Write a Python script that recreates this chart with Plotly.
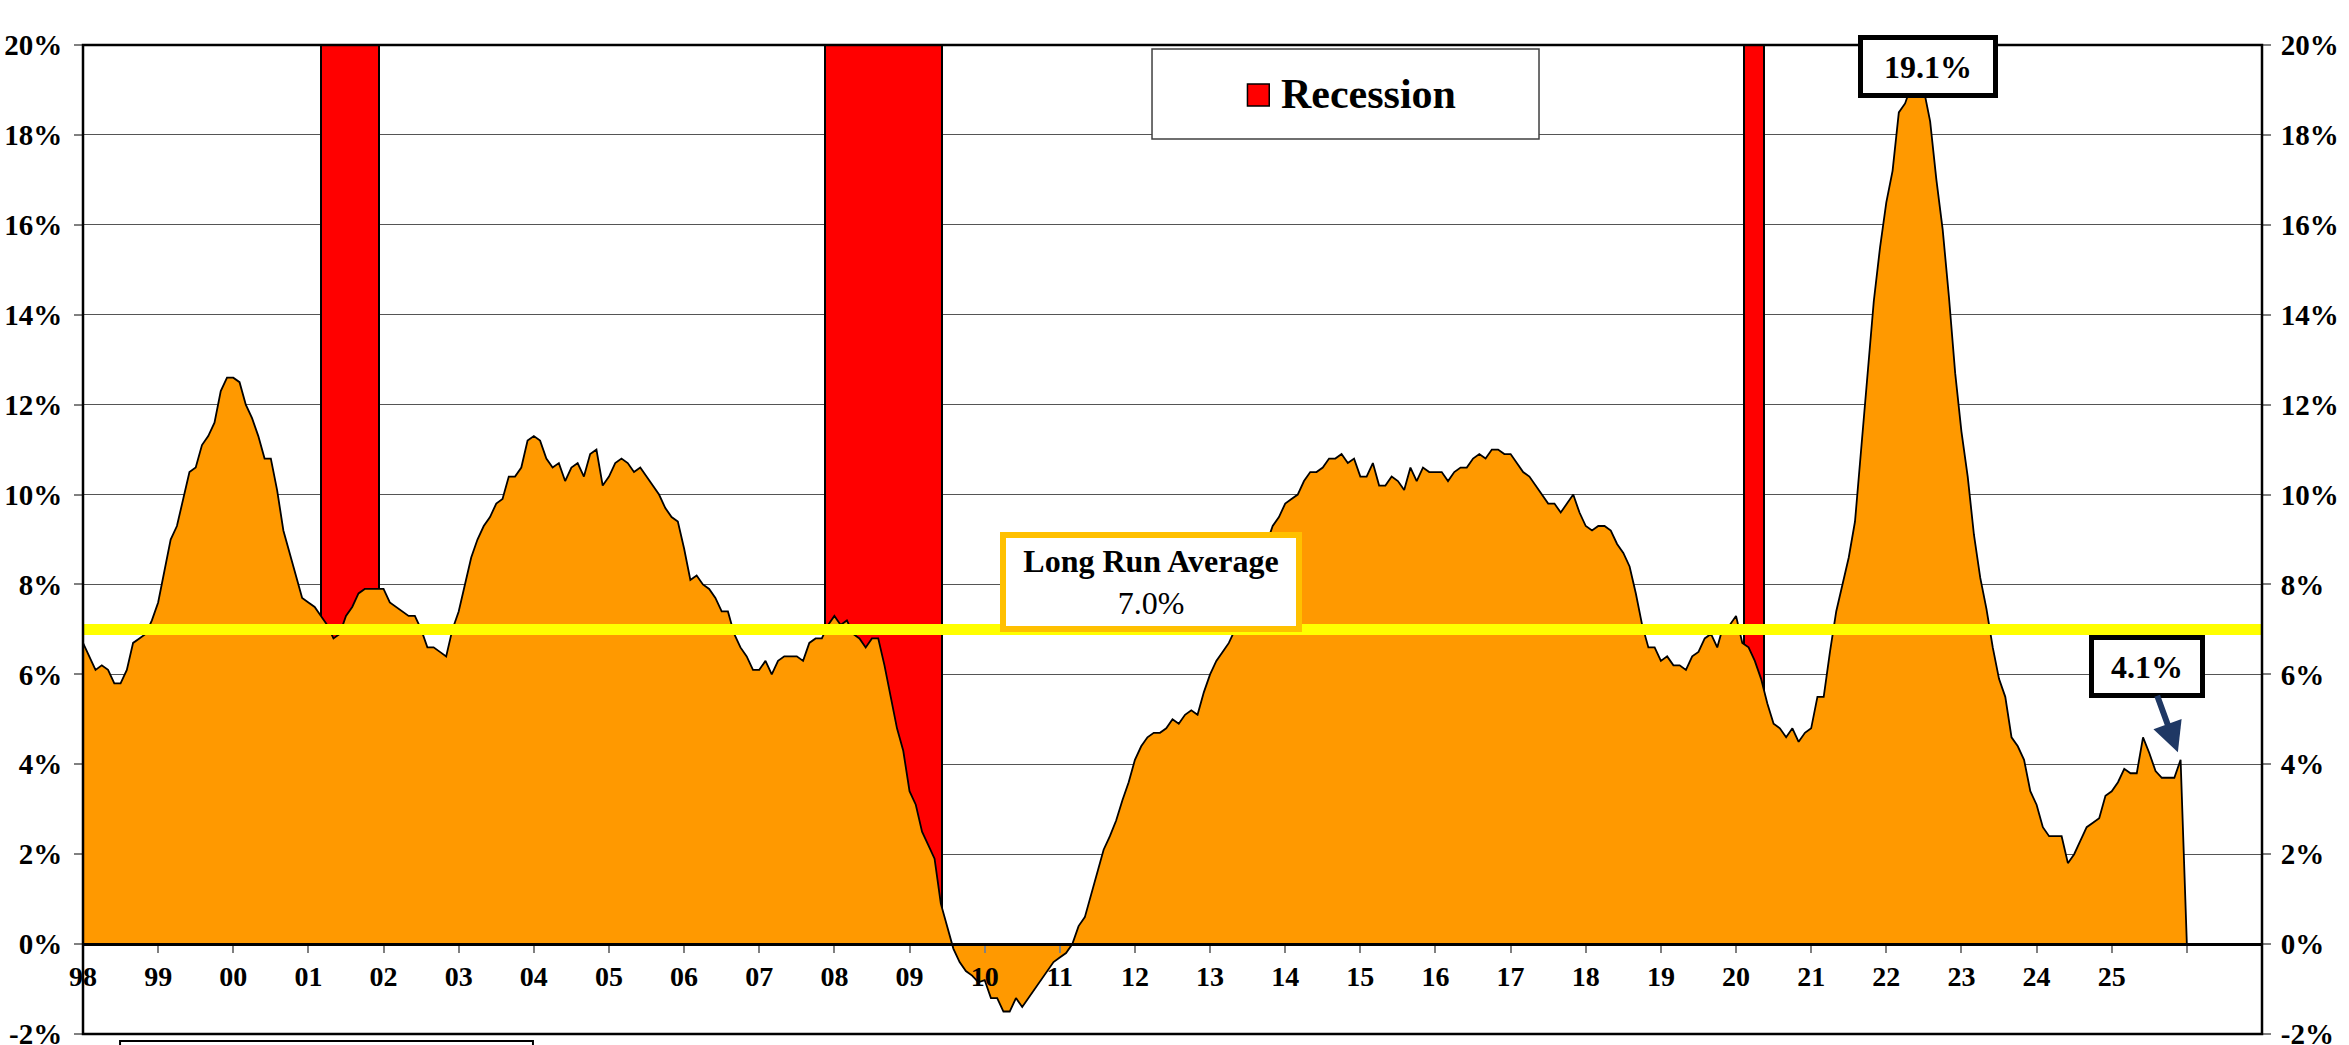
import plotly.graph_objects as go

# monthly values, Jan 1998 .. Dec 2025, then the series drops to 0 in Jan 2026
start_year = 1998
growth = [
    6.7, 6.4, 6.1, 6.2, 6.1, 5.8, 5.8, 6.1, 6.7, 6.8, 6.9, 7.2,          # 98
    7.6, 8.3, 9.0, 9.3, 9.9, 10.5, 10.6, 11.1, 11.3, 11.6, 12.3, 12.6,   # 99
    12.6, 12.5, 12.0, 11.7, 11.3, 10.8, 10.8, 10.1, 9.2, 8.7, 8.2, 7.7,  # 00
    7.6, 7.5, 7.3, 7.1, 6.8, 6.9, 7.3, 7.5, 7.8, 7.9, 7.9, 7.9,          # 01
    7.9, 7.6, 7.5, 7.4, 7.3, 7.3, 7.0, 6.6, 6.6, 6.5, 6.4, 7.0,          # 02
    7.4, 8.0, 8.6, 9.0, 9.3, 9.5, 9.8, 9.9, 10.4, 10.4, 10.6, 11.2,      # 03
    11.3, 11.2, 10.8, 10.6, 10.7, 10.3, 10.6, 10.7, 10.4, 10.9, 11.0, 10.2,  # 04
    10.4, 10.7, 10.8, 10.7, 10.5, 10.6, 10.4, 10.2, 10.0, 9.7, 9.5, 9.4,     # 05
    8.8, 8.1, 8.2, 8.0, 7.9, 7.7, 7.4, 7.4, 6.9, 6.6, 6.4, 6.1,          # 06
    6.1, 6.3, 6.0, 6.3, 6.4, 6.4, 6.4, 6.3, 6.7, 6.8, 6.8, 7.1,          # 07
    7.3, 7.1, 7.2, 6.9, 6.8, 6.6, 6.8, 6.8, 6.2, 5.5, 4.8, 4.3,          # 08
    3.4, 3.1, 2.5, 2.2, 1.9, 0.9, 0.4, -0.1, -0.4, -0.6, -0.7, -0.85,    # 09
    -0.8, -1.2, -1.2, -1.5, -1.5, -1.2, -1.4, -1.2, -1.0, -0.8, -0.6, -0.4,  # 10
    -0.3, -0.2, 0.0, 0.4, 0.6, 1.1, 1.6, 2.1, 2.4, 2.75, 3.2, 3.6,       # 11
    4.1, 4.4, 4.6, 4.7, 4.7, 4.8, 5.0, 4.9, 5.1, 5.2, 5.1, 5.6,          # 12
    6.0, 6.3, 6.5, 6.7, 7.0, 7.35, 7.7, 8.1, 8.5, 8.9, 9.3, 9.5,         # 13
    9.8, 9.9, 10.0, 10.3, 10.5, 10.5, 10.6, 10.8, 10.8, 10.9, 10.7, 10.8,    # 14
    10.4, 10.4, 10.7, 10.2, 10.2, 10.4, 10.3, 10.1, 10.6, 10.3, 10.6, 10.5,  # 15
    10.5, 10.5, 10.3, 10.5, 10.6, 10.6, 10.8, 10.9, 10.8, 11.0, 11.0, 10.9,  # 16
    10.9, 10.7, 10.5, 10.4, 10.2, 10.0, 9.8, 9.8, 9.6, 9.8, 10.0, 9.6,       # 17
    9.3, 9.2, 9.3, 9.3, 9.2, 8.9, 8.7, 8.4, 7.8, 7.1, 6.6, 6.6,          # 18
    6.3, 6.4, 6.2, 6.2, 6.1, 6.4, 6.5, 6.8, 6.9, 6.6, 7.1, 7.1,          # 19
    7.3, 6.7, 6.6, 6.3, 5.9, 5.35, 4.9, 4.8, 4.6, 4.8, 4.5, 4.7,         # 20
    4.8, 5.5, 5.5, 6.5, 7.4, 8.0, 8.6, 9.4, 11.1, 12.7, 14.3, 15.5,      # 21
    16.5, 17.2, 18.5, 18.7, 19.1, 19.1, 19.0, 18.3, 17.0, 15.9, 14.4, 12.7,  # 22
    11.4, 10.4, 9.1, 8.15, 7.45, 6.6, 5.9, 5.5, 4.6, 4.4, 4.1, 3.4,      # 23
    3.1, 2.6, 2.4, 2.4, 2.4, 1.8, 2.0, 2.3, 2.6, 2.7, 2.8, 3.3,          # 24
    3.4, 3.6, 3.9, 3.8, 3.8, 4.6, 4.25, 3.85, 3.7, 3.7, 3.7, 4.1,        # 25
    0.0,                                                                 # 26
]
months = [start_year + i / 12 for i in range(len(growth))]

# recessions (decimal years)
rec_start = [2001.17, 2007.88, 2020.11]
rec_end = [2001.94, 2009.43, 2020.37]
rec_top = 20

long_run_avg = 7.0

year_ticks = list(range(1998, 2027))
year_labels = [f"{y % 100:02d}" for y in range(1998, 2026)] + [""]
y_ticks = list(range(-2, 21, 2))
y_labels = [f"{v}%" for v in y_ticks]

serif = "Liberation Serif"
orange = "#FF9900"

fig = go.Figure()

fig.add_bar(
    x=[(s + e) / 2 for s, e in zip(rec_start, rec_end)],
    y=[rec_top] * len(rec_start),
    width=[e - s for s, e in zip(rec_start, rec_end)],
    marker=dict(color="#FF0000", line=dict(color="black", width=2)),
    name="Recession", showlegend=False,
)

fig.add_scatter(
    x=months, y=growth, mode="lines", fill="tozeroy",
    fillcolor=orange, line=dict(color="black", width=1.8),
    showlegend=False,
)

# long run average drawn on the right-hand axis (same scale)
fig.add_scatter(
    x=[1998, 2027], y=[long_run_avg, long_run_avg], mode="lines",
    line=dict(color="#FFFF00", width=11), showlegend=False, yaxis="y2",
)

x_font = dict(family=serif, size=28, color="black", weight="bold")
y_font = dict(family=serif, size=29, color="black", weight="bold")

fig.update_layout(
    width=2349, height=1045,
    margin=dict(l=83, r=87, t=45, b=11, autoexpand=False),
    paper_bgcolor="white", plot_bgcolor="white",
    bargap=0,
    xaxis=dict(
        range=[1998, 2027], tickvals=year_ticks, ticktext=year_labels,
        anchor="free", position=2 / 22, automargin=False,
        showline=True, linecolor="black", linewidth=2.5,
        ticks="outside", ticklen=7, tickcolor="#808080", tickwidth=1.5,
        tickfont=x_font, showgrid=False, zeroline=False,
    ),
    yaxis=dict(
        range=[-2, 20], tickvals=y_ticks, ticktext=y_labels, automargin=False,
        ticks="outside", ticklen=8, tickcolor="#808080", tickwidth=1.5,
        tickfont=y_font, ticklabelstandoff=6, ticklabeloverflow="allow",
        showgrid=True, gridcolor="#555555", gridwidth=1.2,
        zeroline=False, showline=False,
    ),
    yaxis2=dict(
        range=[-2, 20], tickvals=y_ticks, ticktext=y_labels, automargin=False,
        overlaying="y", side="right", anchor="x",
        ticks="outside", ticklen=8, tickcolor="#808080", tickwidth=1.5,
        tickfont=y_font, ticklabelstandoff=4, ticklabeloverflow="allow",
        showgrid=False, zeroline=False, showline=False,
    ),
)

# plot frame
fig.add_shape(type="rect", xref="paper", yref="paper", x0=0, x1=1, y0=0, y1=1,
              line=dict(color="black", width=2.5), layer="above")

# recession key box
fig.add_shape(type="rect", xref="paper", yref="paper",
              x0=0.4906, x1=0.6682, y0=0.905, y1=0.996,
              line=dict(color="#404040", width=1.5), fillcolor="white", layer="above")
fig.add_shape(type="rect", xref="paper", yref="paper",
              x0=0.5344, x1=0.5444, y0=0.9383, y1=0.9606,
              line=dict(color="black", width=1.5), fillcolor="#FF0000", layer="above")
fig.add_annotation(xref="paper", yref="paper", x=0.549, y=0.9505,
                   xanchor="left", yanchor="middle", showarrow=False,
                   text="<b>Recession</b>",
                   font=dict(family=serif, size=42, color="black"))

# source box cut off at the bottom of the picture
fig.add_shape(type="rect", xref="paper", yref="paper",
              x0=0.017, x1=0.2065, y0=-0.06, y1=-0.0071,
              line=dict(color="black", width=2))

# long run average label
fig.add_annotation(
    x=2012.21, y=8.05, showarrow=False,
    text=f"<b>Long Run Average</b><br>{long_run_avg:.1f}%",
    font=dict(family=serif, size=32, color="black"),
    bgcolor="white", bordercolor="#FFC000", borderwidth=6, borderpad=0,
    width=290, height=88,
)

# peak label
peak = max(growth)
peak_x = months[growth.index(peak)]
fig.add_annotation(
    x=peak_x, xshift=17, y=1.0106, yref="paper", showarrow=False,
    text=f"<b>{peak:.1f}%</b>",
    font=dict(family=serif, size=32, color="black"),
    bgcolor="white", bordercolor="black", borderwidth=5, borderpad=0,
    width=130, height=53,
)

# latest value label
latest = growth[-2]
fig.add_annotation(
    x=months[-2], y=latest,
    text=f"<b>{latest:.1f}%</b>",
    font=dict(family=serif, size=32, color="black"),
    bgcolor="white", bordercolor="black", borderwidth=5, borderpad=0,
    width=106, height=53,
    showarrow=True, ax=-34, ay=-93, axref="pixel", ayref="pixel",
    arrowcolor="#1F3864", arrowwidth=6, arrowhead=2, arrowsize=1, standoff=8,
)

fig.write_html("out.html", config={"displayModeBar": False},
               post_script="document.body.style.margin='0';")
